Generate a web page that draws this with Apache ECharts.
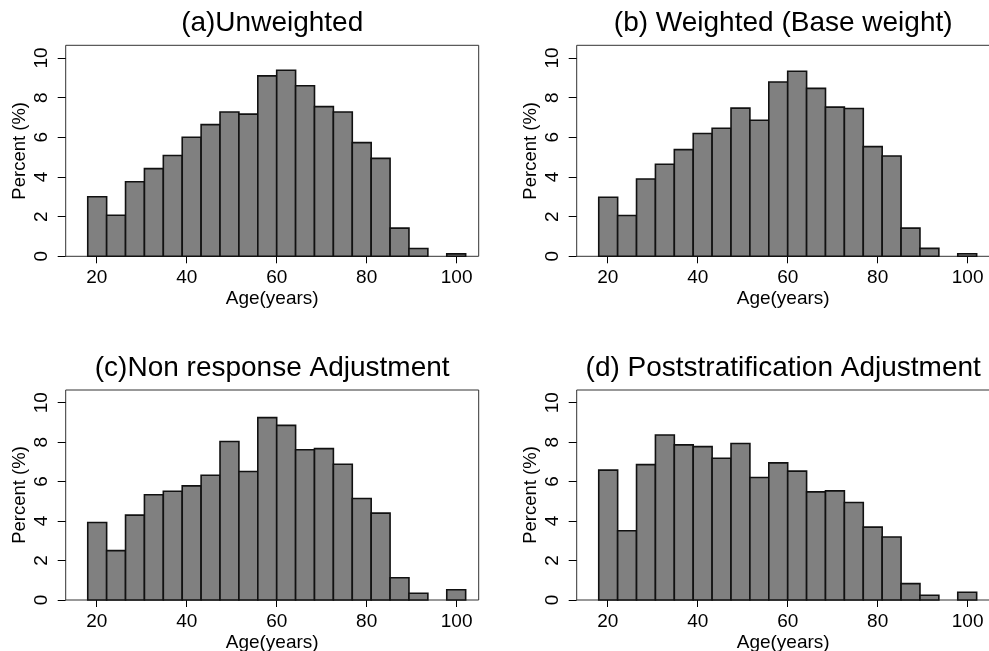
<!DOCTYPE html>
<html>
<head>
<meta charset="utf-8">
<title>Age distribution by weighting stage</title>
<script src="https://cdn.jsdelivr.net/npm/echarts@6/dist/echarts.min.js"></script>
<style>
  html, body { margin: 0; padding: 0; background: #fff; overflow: hidden; }
  #chart { width: 989px; height: 651px; }
</style>
</head>
<body>
<div id="chart"></div>
<script>
// Histogram bin edges (years), 20 bins of width 4.2
const binEdges = [18, 22.2, 26.4, 30.6, 34.8, 39, 43.2, 47.4, 51.6, 55.8, 60,
                  64.2, 68.4, 72.6, 76.8, 81, 85.2, 89.4, 93.6, 97.8, 102];

// Percent of respondents per bin
const unweighted = [3.0, 2.07, 3.76, 4.42, 5.08, 6.0, 6.64, 7.28, 7.17, 9.1,
                    9.38, 8.6, 7.55, 7.28, 5.73, 4.94, 1.42, 0.39, 0, 0.12];
const baseWeight = [2.98, 2.06, 3.9, 4.64, 5.38, 6.19, 6.46, 7.47, 6.86, 8.79,
                    9.33, 8.47, 7.52, 7.45, 5.53, 5.06, 1.42, 0.40, 0, 0.13];
const nonResponse = [3.93, 2.5, 4.3, 5.33, 5.51, 5.78, 6.32, 8.03, 6.51, 9.24,
                     8.85, 7.61, 7.67, 6.88, 5.14, 4.4, 1.13, 0.34, 0, 0.52];
const postStrat = [6.58, 3.51, 6.86, 8.36, 7.86, 7.77, 7.18, 7.93, 6.21, 6.95,
                   6.53, 5.48, 5.53, 4.94, 3.69, 3.19, 0.83, 0.24, 0, 0.39];

const panelTitles = ['(a)Unweighted', '(b) Weighted (Base weight)',
                     '(c)Non response Adjustment', '(d) Poststratification Adjustment'];
const xTicks = [20, 40, 60, 80, 100];
const yTicks = [0, 2, 4, 6, 8, 10];
const xName = 'Age(years)';
const yName = 'Percent (%)';

const panels = [unweighted, baseWeight, nonResponse, postStrat];

// Plot-box placement of each panel (right column runs to the page edge)
const boxes = [
  { left: 65.7,  top: 45.3, width: 413, height: 211 },
  { left: 576.7, top: 45.3, width: 413, height: 211 },
  { left: 65.7,  top: 390,  width: 413, height: 210 },
  { left: 576.7, top: 390,  width: 413, height: 210 }
];

const FONT = '"Liberation Sans", Arial, Helvetica, sans-serif';

const grid = [], xAxis = [], yAxis = [], series = [], graphic = [];

boxes.forEach((b, i) => {
  grid.push({
    left: b.left, top: b.top, width: b.width, height: b.height,
    containLabel: false, outerBoundsMode: 'none',
    show: true, borderColor: '#333', borderWidth: 1, backgroundColor: 'transparent'
  });
  xAxis.push({
    type: 'value', gridIndex: i, min: 13.1, max: 104.9,
    name: xName, nameLocation: 'middle', nameGap: 33,
    nameTextStyle: { color: '#000', fontSize: 19, fontFamily: FONT },
    axisLine: { show: false },
    axisTick: { show: true, length: 7, customValues: xTicks, lineStyle: { color: '#000', width: 1 } },
    axisLabel: { customValues: xTicks, color: '#000', fontSize: 19, fontFamily: FONT, margin: 12, hideOverlap: false },
    splitLine: { show: false }
  });
  yAxis.push({
    type: 'value', gridIndex: i, min: 0, max: 10.64,
    name: yName, nameLocation: 'middle', nameGap: 36, nameRotate: 90,
    nameTextStyle: { color: '#000', fontSize: 18.5, fontFamily: FONT },
    axisLine: { show: false },
    axisTick: { show: true, length: 8, customValues: yTicks, lineStyle: { color: '#000', width: 1 } },
    axisLabel: { customValues: yTicks, rotate: 90, color: '#000', fontSize: 19, fontFamily: FONT, margin: 14 },
    splitLine: { show: false }
  });

  const data = panels[i].map((v, k) => [binEdges[k], binEdges[k + 1], v]);
  series.push({
    type: 'custom',
    xAxisIndex: i, yAxisIndex: i,
    data: data,
    encode: { x: [0, 1], y: 2 },
    renderItem: function (params, api) {
      const h = api.value(2);
      if (!h) return null;
      const p0 = api.coord([api.value(0), h]);
      const p1 = api.coord([api.value(1), 0]);
      return {
        type: 'rect',
        shape: { x: p0[0], y: p0[1], width: p1[0] - p0[0], height: p1[1] - p0[1] },
        style: { fill: '#808080', stroke: '#111', lineWidth: 1.6 }
      };
    }
  });

  graphic.push({
    type: 'text',
    x: b.left + b.width / 2,
    y: b.top - 21.7,
    style: {
      text: panelTitles[i], fill: '#000', fontSize: 28, fontFamily: FONT,
      textAlign: 'center', textVerticalAlign: 'middle'
    }
  });
});

const chart = echarts.init(document.getElementById('chart'), null, { renderer: 'canvas' });
chart.setOption({
  animation: false,
  backgroundColor: '#fff',
  grid, xAxis, yAxis, series, graphic
});
</script>
</body>
</html>
